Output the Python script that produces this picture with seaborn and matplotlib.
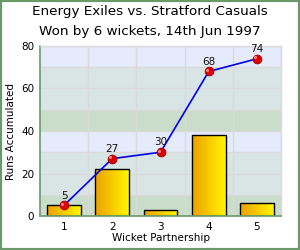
import numpy as np
import pandas as pd
import matplotlib
matplotlib.use('Agg')
import matplotlib.pyplot as plt
import seaborn as sns
from matplotlib.colors import LinearSegmentedColormap

# Data
wickets = ['1', '2', '3', '4', '5']
partnership_runs = [5, 22, 3, 38, 6]
cumulative_runs = [5, 27, 30, 68, 74]
title_lines = ['Energy Exiles vs. Stratford Casuals', 'Won by 6 wickets, 14th Jun 1997']

df = pd.DataFrame({'wicket': wickets, 'runs': partnership_runs})

sns.set_style('white')
plt.rcParams['font.family'] = ['DejaVu Sans']
plt.rcParams['text.color'] = 'black'
plt.rcParams['axes.labelcolor'] = 'black'
plt.rcParams['xtick.color'] = 'black'
plt.rcParams['ytick.color'] = 'black'

fig = plt.figure(figsize=(3, 2.5), dpi=100)
ax = fig.add_axes([0.133, 0.136, 0.804, 0.68])

# alternating background bands
band_cols = {0: '#cadcca', 1: '#d9e4e4', 2: '#d9e4e4', 3: '#e5ebfb'}
for k in range(8):
    ax.axhspan(k * 10, (k + 1) * 10, color=band_cols[k % 4], zorder=0, lw=0)

# grid
for y in range(10, 81, 10):
    ax.axhline(y, color='#dadada', lw=1.0, zorder=0.5)
for x in np.arange(0.5, 4.6, 1):
    ax.axvline(x, color='#dadada', lw=1.0, zorder=0.5)

n_before = len(ax.patches)
sns.barplot(data=df, x='wicket', y='runs', ax=ax, width=0.7,
            color='#f5c800', edgecolor='black', linewidth=1.0, zorder=2)
bars = ax.patches[n_before:]

# horizontal gradient fill for each bar
grad = LinearSegmentedColormap.from_list('g', ['#eea000', '#fff600'])
gimg = np.linspace(0, 1, 64).reshape(1, -1)
for p in bars:
    x0, y0 = p.get_x(), p.get_y()
    w, h = p.get_width(), p.get_height()
    im = ax.imshow(gimg, cmap=grad, aspect='auto', extent=[x0, x0 + w, y0, y0 + h],
                   zorder=2.1)
    im.set_clip_path(p)
    p.set_facecolor('none')
    p.set_zorder(2.2)

# cumulative line with markers
xs = np.arange(len(wickets))
ax.plot(xs, cumulative_runs, color='#0000f0', lw=1.2, zorder=3)
ax.scatter(xs, cumulative_runs, s=40, color='#dd0000', edgecolor='#a00000',
           linewidth=0.6, zorder=4)
ax.scatter(xs - 0.04, np.array(cumulative_runs) + 0.6, s=5, color='#ff8080',
           linewidth=0, zorder=5)
for x, v in zip(xs, cumulative_runs):
    ax.annotate(str(v), (x, v), textcoords='offset points', xytext=(0, 3.5),
                ha='center', va='bottom', fontsize=7.5, color='#111111', zorder=6)

ax.set_xlim(-0.5, 4.5)
ax.set_ylim(0, 80)
ax.set_yticks([0, 20, 40, 60, 80])
ax.set_xlabel('Wicket Partnership', fontsize=7.5, labelpad=1)
ax.set_ylabel('Runs Accumulated', fontsize=7.5, labelpad=4)
ax.tick_params(axis='both', length=0, labelsize=7.5, pad=4)

for s in ['left', 'bottom']:
    ax.spines[s].set_color('#6a9a6a')
    ax.spines[s].set_linewidth(1.2)
for s in ['top', 'right']:
    ax.spines[s].set_color('#dadada')
    ax.spines[s].set_linewidth(1.0)

fig.text(0.5, 0.955, title_lines[0], ha='center', va='center', fontsize=9.7)
fig.text(0.5, 0.875, title_lines[1], ha='center', va='center', fontsize=9.7)

# outer green frame
frame = plt.Rectangle((0, 0), 1, 1, transform=fig.transFigure, fill=False,
                      edgecolor='#6a9a6a', linewidth=3.0)
fig.patches.append(frame)

fig.savefig('out.png', dpi=100)
